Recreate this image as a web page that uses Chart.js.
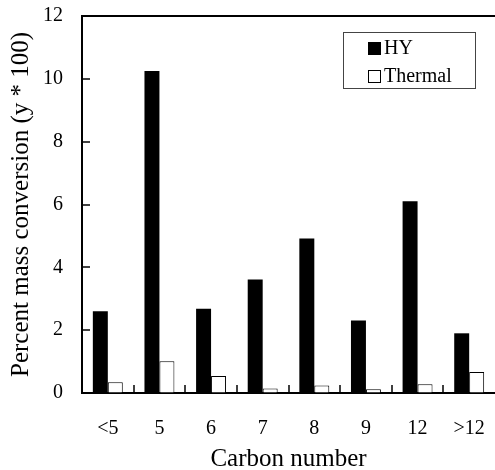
<!DOCTYPE html>
<html>
<head>
<meta charset="utf-8">
<script src="https://cdn.jsdelivr.net/npm/chart.js@4.4.1/dist/chart.umd.min.js"></script>
<style>
  body { margin: 0; background: #fff; }
</style>
</head>
<body>
<canvas id="myChart" width="495" height="470"></canvas>
<script>
// data
const carbonLabels = ['<5', '5', '6', '7', '8', '9', '12', '>12'];
const hyValues = [2.60, 10.25, 2.68, 3.61, 4.92, 2.31, 6.10, 1.90];
const thermalValues = [0.34, 1.01, 0.54, 0.14, 0.24, 0.12, 0.28, 0.67];
const yMin = 0;
const yMax = 12;
const yStep = 2;

const serif = '"Liberation Serif", "Times New Roman", serif';

// top frame line, inward ticks and the boxed legend
const framePlugin = {
    id: 'frame',
    afterDraw(chart) {
        const { ctx, chartArea, scales } = chart;
        const x = scales.x, y = scales.y;
        ctx.save();
        ctx.strokeStyle = '#000';
        ctx.lineWidth = 2;
        ctx.beginPath();
        ctx.moveTo(chartArea.left - 1, chartArea.top);
        ctx.lineTo(chartArea.right, chartArea.top);
        ctx.stroke();

        ctx.lineWidth = 1.5;
        y.ticks.forEach(t => {
            const py = Math.round(y.getPixelForValue(t.value));
            ctx.beginPath();
            ctx.moveTo(chartArea.left, py);
            ctx.lineTo(chartArea.left + 8, py);
            ctx.stroke();
        });
        for (let i = 1; i < carbonLabels.length; i++) {
            const px = Math.round((x.getPixelForValue(i - 1) + x.getPixelForValue(i)) / 2);
            ctx.beginPath();
            ctx.moveTo(px, chartArea.bottom);
            ctx.lineTo(px, chartArea.bottom - 8);
            ctx.stroke();
        }

        // legend
        const bx = 343, by = 32, bw = 132, bh = 56;
        ctx.lineWidth = 1;
        ctx.strokeStyle = '#444';
        ctx.strokeRect(bx + 0.5, by + 0.5, bw, bh);
        ctx.font = '20px ' + serif;
        ctx.textBaseline = 'middle';
        chart.data.datasets.forEach((ds, i) => {
            const cy = by + 16 + i * 28;
            ctx.fillStyle = ds.backgroundColor;
            ctx.fillRect(368, cy - 6, 13, 13);
            ctx.strokeStyle = '#000';
            ctx.strokeRect(368.5, cy - 5.5, 12, 12);
            ctx.fillStyle = '#000';
            ctx.fillText(ds.label, 384, cy + 1);
        });
        ctx.restore();
    }
};

function initChart() {
    const ctx = document.getElementById('myChart').getContext('2d');
    new Chart(ctx, {
        type: 'bar',
        data: {
            labels: carbonLabels,
            datasets: [
                {
                    label: 'HY',
                    data: hyValues,
                    backgroundColor: '#000000',
                    borderColor: '#000000',
                    borderWidth: 0
                },
                {
                    label: 'Thermal',
                    data: thermalValues,
                    backgroundColor: '#ffffff',
                    borderColor: '#000000',
                    borderWidth: 1
                }
            ]
        },
        options: {
            responsive: false,
            animation: false,
            categoryPercentage: 0.58,
            barPercentage: 1.0,
            layout: { padding: { top: 16, right: 0, left: 0, bottom: 0 } },
            plugins: {
                legend: { display: false },
                tooltip: { enabled: false }
            },
            scales: {
                x: {
                    grid: { display: true, drawOnChartArea: false, drawTicks: false },
                    border: { display: true, color: '#000', width: 2 },
                    ticks: {
                        color: '#000',
                        padding: 24,
                        font: { family: serif, size: 20 }
                    },
                    title: {
                        display: true,
                        text: 'Carbon number',
                        color: '#000',
                        padding: { top: 0, bottom: -2 },
                        font: { family: serif, size: 25, lineHeight: 1 }
                    },
                    afterFit(scale) {
                        scale.height = 77;
                        scale.paddingLeft = 0;
                        scale.paddingRight = 0;
                    }
                },
                y: {
                    min: yMin,
                    max: yMax,
                    grid: { display: true, drawOnChartArea: false, drawTicks: false },
                    border: { display: true, color: '#000', width: 2 },
                    ticks: {
                        stepSize: yStep,
                        color: '#000',
                        padding: 19,
                        font: { family: serif, size: 20 }
                    },
                    title: {
                        display: true,
                        text: 'Percent mass conversion (y * 100)',
                        color: '#000',
                        padding: { top: 9, bottom: 0 },
                        font: { family: serif, size: 25, lineHeight: 1 }
                    },
                    afterFit(scale) {
                        scale.width = 82;
                        scale.paddingTop = 0;
                        scale.paddingBottom = 0;
                    }
                }
            }
        },
        plugins: [framePlugin]
    });
}

window.onload = initChart;
</script>
</body>
</html>
